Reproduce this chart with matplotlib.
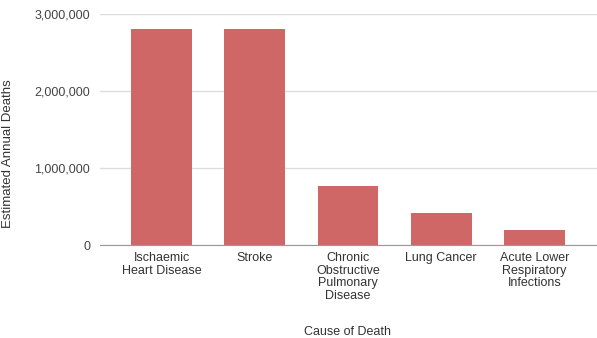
import matplotlib
matplotlib.use("Agg")
import matplotlib.pyplot as plt
from matplotlib.ticker import FuncFormatter

plt.rcParams['font.family'] = ['Liberation Sans', 'DejaVu Sans']

causes = ["Ischaemic\nHeart Disease", "Stroke", "Chronic\nObstructive\nPulmonary\nDisease",
          "Lung Cancer", "Acute Lower\nRespiratory\nInfections"]
deaths = [2800000, 2800000, 770000, 410000, 200000]
y_ticks = [0, 1000000, 2000000, 3000000]

fig = plt.figure(figsize=(5.97, 3.38), dpi=100)
ax = fig.add_axes([100 / 597, 1 - 245 / 338, 497 / 597, 231 / 338])

x = range(len(causes))
ax.bar(x, deaths, width=0.65, color="#cf6767", zorder=3)

ax.set_xlim(-0.66, 4.67)
ax.set_ylim(0, 3000000)
ax.set_yticks(y_ticks)
ax.yaxis.set_major_formatter(FuncFormatter(lambda v, p: f"{int(v):,}"))
ax.set_xticks(list(x))
ax.set_xticklabels(causes, fontsize=9, color="#333333", linespacing=1.07, va="top")

ax.grid(axis="y", color="#dddddd", linewidth=1, zorder=0)
ax.tick_params(axis="y", length=0, pad=7, labelsize=9, labelcolor="#444444")
ax.tick_params(axis="x", length=0, pad=5)
for side in ["top", "right", "left"]:
    ax.spines[side].set_visible(False)
ax.spines["bottom"].set_color("#999999")
ax.spines["bottom"].set_zorder(4)

fig.text(348 / 597, 1 - 332 / 338, "Cause of Death", ha="center", va="center",
         fontsize=9, color="#333333")
fig.text(8 / 597, 1 - 154 / 338, "Estimated Annual Deaths", ha="center", va="center",
         rotation=90, fontsize=9.5, color="#333333")

fig.savefig("out.png", dpi=100)
